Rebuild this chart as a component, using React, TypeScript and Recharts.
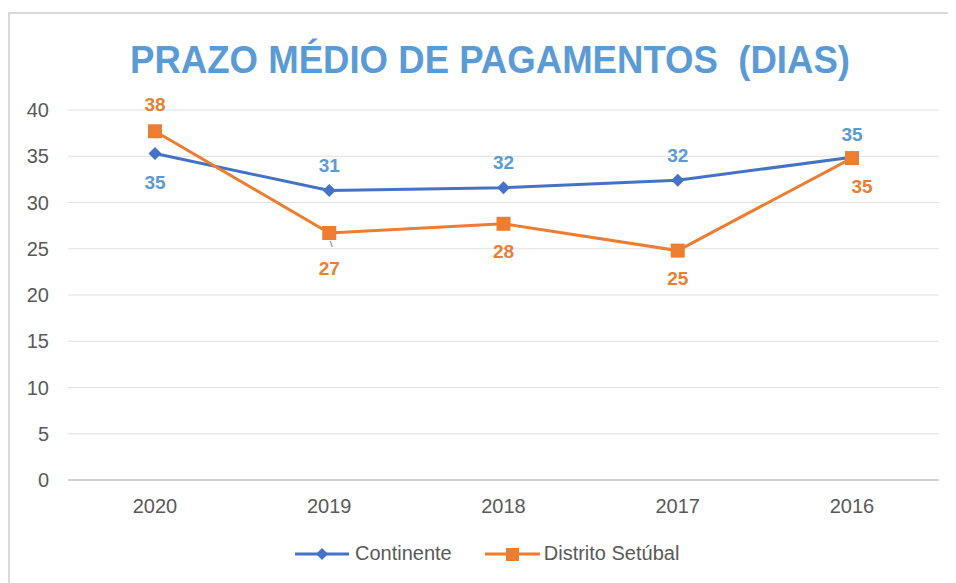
import React from 'react';
import { LineChart, Line, XAxis, YAxis, CartesianGrid, Legend, LabelList } from 'recharts';

const years = ['2020', '2019', '2018', '2017', '2016'];
const continente = [35.3, 31.3, 31.6, 32.4, 34.9];
const setubal = [37.7, 26.7, 27.7, 24.8, 34.8];
const yTicks = [0, 5, 10, 15, 20, 25, 30, 35, 40];

const data = years.map((year, i) => ({
  year,
  continente: continente[i],
  setubal: setubal[i],
}));

// label placement relative to each point [dx, dy]
const contLabelPos = [[0, 29], [0, -25], [0, -25], [0, -25], [0, -23]];
const setLabelPos = [[0, -27], [0, 35], [0, 28], [0, 28], [10, 28]];

const FONT = '"Liberation Sans", Arial, sans-serif';
const BLUE = '#4472C4';
const LIGHT_BLUE = '#5B9BD5';
const ORANGE = '#ED7D31';
const GRAY_TEXT = '#595959';

const Diamond = (props: any) => {
  const { cx, cy } = props;
  if (cx == null || cy == null) return <g />;
  const r = 6.5;
  return <path d={`M${cx},${cy - r}L${cx + r},${cy}L${cx},${cy + r}L${cx - r},${cy}Z`} fill={BLUE} />;
};

const Square = (props: any) => {
  const { cx, cy } = props;
  if (cx == null || cy == null) return <g />;
  return <rect x={cx - 7} y={cy - 7} width={14} height={14} fill={ORANGE} />;
};

const makeLabel = (pos: number[][], color: string, leaderIdx = -1) => (props: any) => {
  const { x, y, value, index } = props;
  const [dx, dy] = pos[index];
  return (
    <g>
      {index === leaderIdx && (
        <line x1={x + 1} y1={y + 8} x2={x + 3} y2={y + 14} stroke="#a6a6a6" strokeWidth={1.5} />
      )}
      <text
        x={x + dx}
        y={y + dy}
        textAnchor="middle"
        dominantBaseline="central"
        fill={color}
        fontSize={19}
        fontWeight="bold"
        fontFamily={FONT}
      >
        {Math.round(value)}
      </text>
    </g>
  );
};

const renderLegend = () => (
  <div style={{ display: 'flex', alignItems: 'center', fontFamily: FONT, fontSize: 20, color: GRAY_TEXT }}>
    <svg width={54} height={20}>
      <line x1={0} y1={10} x2={54} y2={10} stroke={BLUE} strokeWidth={3} />
      <path d="M27,4L33,10L27,16L21,10Z" fill={BLUE} />
    </svg>
    <span style={{ marginLeft: 6 }}>Continente</span>
    <svg width={55} height={20} style={{ marginLeft: 33 }}>
      <line x1={0} y1={10} x2={55} y2={10} stroke={ORANGE} strokeWidth={3} />
      <rect x={21} y={4} width={13} height={13} fill={ORANGE} />
    </svg>
    <span style={{ marginLeft: 4 }}>Distrito Setúbal</span>
  </div>
);

export default function App() {
  return (
    <div style={{ position: 'relative', width: 948, height: 575, overflow: 'hidden', background: '#fff' }}>
      <div
        style={{
          position: 'absolute',
          left: 0,
          top: 4,
          width: 960,
          height: 600,
          borderTop: '2px solid #d9d9d9',
          borderLeft: '2px solid #d9d9d9',
        }}
      />
      <svg style={{ position: 'absolute', left: 0, top: 0 }} width={948} height={100}>
        <text
          x={482}
          y={65}
          textAnchor="middle"
          fill={LIGHT_BLUE}
          fontSize={39}
          fontWeight="bold"
          fontFamily={FONT}
          textLength={720}
          lengthAdjust="spacingAndGlyphs"
          xmlSpace="preserve"
        >
          PRAZO MÉDIO DE PAGAMENTOS  (DIAS)
        </text>
      </svg>
      <div style={{ position: 'absolute', left: 0, top: 0 }}>
        <LineChart width={948} height={575} data={data} margin={{ top: 102, right: 17, left: 0, bottom: 49 }}>
          <CartesianGrid vertical={false} stroke="#e0e0e0" />
          <XAxis
            dataKey="year"
            height={30}
            padding={{ left: 87, right: 87 }}
            axisLine={{ stroke: '#d0d0d0', strokeWidth: 2 }}
            tickLine={false}
            tickMargin={13}
            tick={{ fill: GRAY_TEXT, fontSize: 20, fontFamily: FONT }}
          />
          <YAxis
            width={60}
            domain={[0, 40]}
            ticks={yTicks}
            axisLine={false}
            tickLine={false}
            tickMargin={13}
            tick={{ fill: GRAY_TEXT, fontSize: 20, fontFamily: FONT }}
          />
          <Legend
            content={renderLegend}
            wrapperStyle={{ left: 287, top: 534, width: 460, height: 24 }}
          />
          <Line
            dataKey="continente"
            name="Continente"
            stroke={BLUE}
            strokeWidth={3}
            dot={<Diamond />}
            activeDot={false}
            isAnimationActive={false}
          >
            <LabelList dataKey="continente" content={makeLabel(contLabelPos, LIGHT_BLUE)} />
          </Line>
          <Line
            dataKey="setubal"
            name="Distrito Setúbal"
            stroke={ORANGE}
            strokeWidth={3}
            dot={<Square />}
            activeDot={false}
            isAnimationActive={false}
          >
            <LabelList dataKey="setubal" content={makeLabel(setLabelPos, ORANGE, 1)} />
          </Line>
        </LineChart>
      </div>
    </div>
  );
}
